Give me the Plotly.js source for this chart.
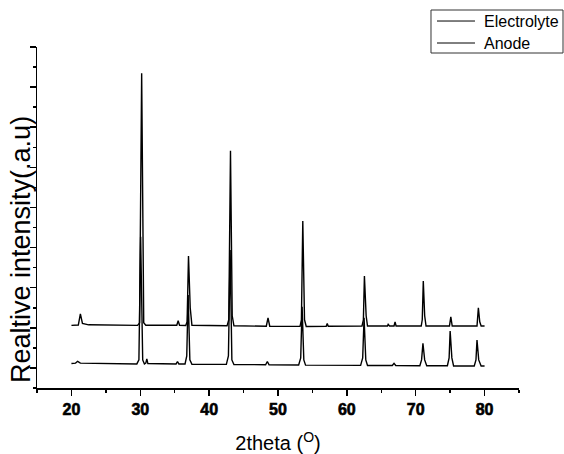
<!DOCTYPE html>
<html>
<head>
<meta charset="utf-8">
<script src="https://cdn.plot.ly/plotly-3.0.1.min.js"></script>
<style>html,body{margin:0;padding:0;background:#fff;}#chart{width:564px;height:454px;}</style>
</head>
<body>
<div id="chart"></div>
<script>
// Series names
var seriesNames = ["Electrolyte", "Anode"];

// X tick values / labels
var xTickVals = [20, 30, 40, 50, 60, 70, 80];
var xTickText = ["20", "30", "40", "50", "60", "70", "80"];

// Electrolyte pattern (2theta, intensity a.u., offset upward)
var electrolyteX = [20.0, 21.0, 21.3, 21.6, 22.5, 29.6, 29.9, 30.2, 30.5, 30.8,
  35.3, 35.5, 35.7, 36.6, 36.8, 37.0, 37.25, 37.5, 42.6, 42.85, 43.1, 43.35, 43.6,
  48.3, 48.55, 48.8, 53.2, 53.4, 53.6, 53.85, 54.1, 57.0, 57.15, 57.3,
  62.2, 62.4, 62.55, 62.8, 63.0, 65.9, 66.0, 66.2, 66.85, 67.0, 67.15,
  70.8, 70.95, 71.1, 71.3, 71.5, 74.9, 75.1, 75.3, 78.9, 79.1, 79.3, 79.5, 80.0];
var electrolyteY = [212, 214, 270, 222, 215, 212, 225, 1469, 225, 213,
  213, 235, 213, 212, 230, 558, 300, 213, 210, 240, 1083, 260, 210,
  208, 250, 208, 207, 240, 733, 240, 207, 208, 222, 208,
  209, 240, 458, 260, 209, 209, 217, 209, 209, 230, 209,
  209, 240, 433, 260, 209, 209, 255, 209, 209, 300, 230, 209, 209];

// Anode pattern (2theta, intensity a.u.)
var anodeX = [20.0, 20.6, 20.9, 21.3, 29.5, 29.8, 30.05, 30.35, 30.6, 30.8, 30.95, 31.1,
  35.2, 35.4, 35.6, 36.5, 36.75, 36.95, 37.2, 37.5, 42.5, 42.8, 43.05, 43.3, 43.6,
  48.2, 48.45, 48.7, 53.0, 53.3, 53.5, 53.75, 54.0, 62.0, 62.3, 62.5, 62.75, 63.0,
  66.6, 66.85, 67.1, 70.6, 70.85, 71.05, 71.3, 71.6, 74.6, 74.85, 75.0, 75.25, 75.5,
  78.5, 78.75, 78.9, 79.15, 79.5, 80.0];
var anodeY = [22, 24, 33, 24, 20, 40, 654, 40, 20, 24, 45, 22,
  20, 32, 20, 20, 60, 364, 40, 18, 18, 60, 588, 40, 17,
  16, 32, 16, 15, 50, 305, 40, 14, 13, 50, 250, 40, 12,
  12, 23, 12, 11, 40, 123, 40, 11, 11, 50, 184, 50, 10,
  10, 40, 139, 40, 10, 10];

var xTitle = "2theta (<sup>O</sup>)";
var yTitle = "Realtive intensity(.a.u)";

var font = "Liberation Sans, Arial, sans-serif";

var traces = [
  {x: electrolyteX, y: electrolyteY, name: seriesNames[0], type: "scatter", mode: "lines",
   line: {color: "#000", width: 1.4}},
  {x: anodeX, y: anodeY, name: seriesNames[1], type: "scatter", mode: "lines",
   line: {color: "#000", width: 1.4}}
];

// legend drawn as decoration (box, sample lines, labels) in paper coordinates
var legendBox = {x0: 0.8174, x1: 1.0913, y0: 0.9824, y1: 1.1085};
var legendLineX = [0.8299, 0.9087];
var legendRowY = [1.0762, 1.0117];
var legendTextX = 0.9226;

var shapes = [{type: "rect", xref: "paper", yref: "paper",
  x0: legendBox.x0, x1: legendBox.x1, y0: legendBox.y0, y1: legendBox.y1,
  line: {color: "#333", width: 1}, fillcolor: "rgba(0,0,0,0)"}];
var annotations = [{text: yTitle, xref: "paper", yref: "paper", x: -0.033, y: 0.405,
    xanchor: "center", yanchor: "middle", textangle: -90, showarrow: false,
    font: {family: font, size: 27, color: "#000"}}];
seriesNames.forEach(function (nm, i) {
  shapes.push({type: "line", xref: "paper", yref: "paper",
    x0: legendLineX[0], x1: legendLineX[1], y0: legendRowY[i], y1: legendRowY[i],
    line: {color: "#000", width: 1}});
  annotations.push({text: nm, xref: "paper", yref: "paper", x: legendTextX, y: legendRowY[i],
    xanchor: "left", yanchor: "middle", showarrow: false,
    font: {family: font, size: 16, color: "#000"}});
});

var layout = {
  width: 564, height: 454,
  margin: {l: 37, r: 45, t: 47, b: 66},
  paper_bgcolor: "#fff", plot_bgcolor: "#fff",
  font: {family: font, color: "#000"},
  showlegend: false,
  xaxis: {range: [15, 85], tickmode: "array", tickvals: xTickVals,
    ticktext: xTickText,
    ticks: "outside", ticklen: 6, tickwidth: 1.5,
    tickcolor: "#000", showline: true, linecolor: "#000", linewidth: 1.5,
    showgrid: false, zeroline: false,
    tickfont: {family: "Liberation Sans", size: 16, weight: 900, color: "#000"},
    minor: {dtick: 5, tick0: 0, ticks: "outside", ticklen: 3, tickwidth: 1.5, tickcolor: "#000", showgrid: false},
    title: {text: xTitle, font: {family: font, size: 20, color: "#000"}, standoff: 20}},
  yaxis: {range: [-100, 1600], tick0: 0, dtick: 200, ticks: "outside", ticklen: 6, tickwidth: 1.5,
    tickcolor: "#000", showline: true, linecolor: "#000", linewidth: 1.5,
    showgrid: false, zeroline: false, showticklabels: false,
    minor: {dtick: 100, ticks: "outside", ticklen: 3, tickwidth: 1.5, tickcolor: "#000", showgrid: false}},
  shapes: shapes,
  annotations: annotations
};

Plotly.newPlot("chart", traces, layout, {staticPlot: true, displayModeBar: false}).then(function () {
  // reinforce bold tick labels on the x axis (stroke thickens the glyphs)
  document.querySelectorAll(".xtick text").forEach(function (t) {
    t.style.fontWeight = "900";
    t.style.stroke = "#000";
    t.style.strokeWidth = "0.6px";
  });
});
</script>
</body>
</html>
